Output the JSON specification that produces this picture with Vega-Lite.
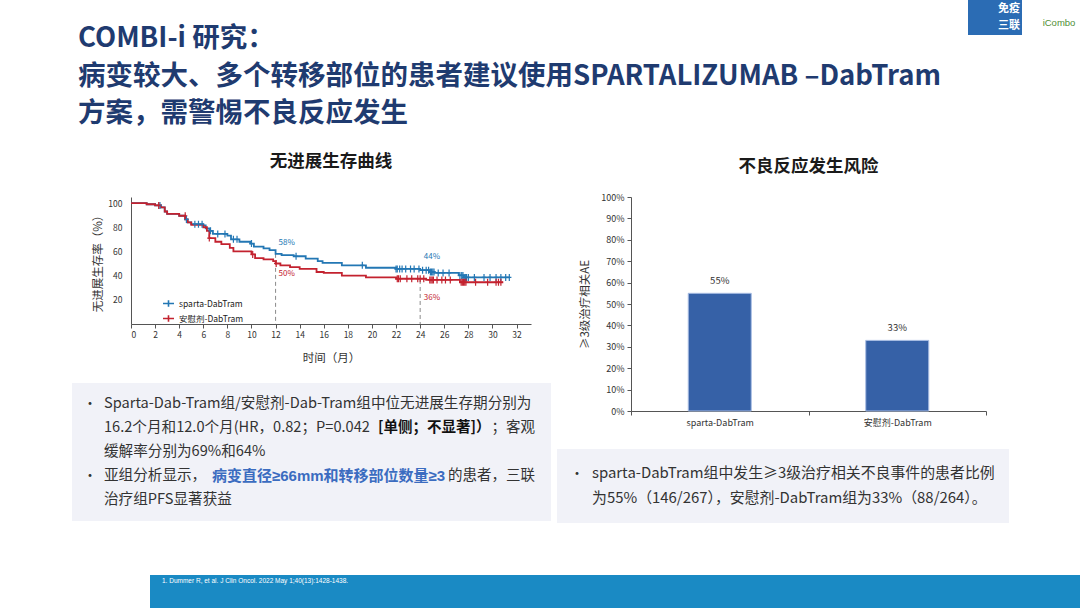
{
  "$schema": "https://vega.github.io/schema/vega-lite/v6.json",
  "background": "white",
  "padding": {"left": 72, "top": 0, "right": 0, "bottom": 0},
  "config": {
    "view": {"stroke": null},
    "font": "Noto Sans CJK SC",
    "axis": {"labelColor": "#333", "titleColor": "#333", "domainColor": "#555", "tickColor": "#555", "titleFontWeight": "normal", "grid": false, "labelFont": "Noto Sans CJK SC", "titleFont": "Noto Sans CJK SC"},
    "title": {"font": "Noto Sans CJK SC"}
  },
  "datasets": {
    "titleLines": [
      {"line": 1, "text": "COMBI-i 研究："},
      {"line": 2, "text": "病变较大、多个转移部位的患者建议使用SPARTALIZUMAB –DabTram"},
      {"line": 3, "text": "方案，需警惕不良反应发生"}
    ],
    "km": [
      {"arm": "sparta-DabTram", "t": 0, "s": 100}, {"arm": "sparta-DabTram", "t": 1.3, "s": 99}, {"arm": "sparta-DabTram", "t": 2.0, "s": 98}, {"arm": "sparta-DabTram", "t": 2.5, "s": 96.5}, {"arm": "sparta-DabTram", "t": 2.8, "s": 93}, {"arm": "sparta-DabTram", "t": 3.0, "s": 91}, {"arm": "sparta-DabTram", "t": 4.0, "s": 89.5}, {"arm": "sparta-DabTram", "t": 4.5, "s": 86.5}, {"arm": "sparta-DabTram", "t": 4.7, "s": 84}, {"arm": "sparta-DabTram", "t": 5.0, "s": 82.5}, {"arm": "sparta-DabTram", "t": 6.0, "s": 81.5}, {"arm": "sparta-DabTram", "t": 6.2, "s": 79}, {"arm": "sparta-DabTram", "t": 6.5, "s": 77}, {"arm": "sparta-DabTram", "t": 6.8, "s": 74.5}, {"arm": "sparta-DabTram", "t": 8.0, "s": 73}, {"arm": "sparta-DabTram", "t": 8.3, "s": 70}, {"arm": "sparta-DabTram", "t": 9.0, "s": 68}, {"arm": "sparta-DabTram", "t": 9.9, "s": 66.5}, {"arm": "sparta-DabTram", "t": 10.2, "s": 64}, {"arm": "sparta-DabTram", "t": 11.0, "s": 62.5}, {"arm": "sparta-DabTram", "t": 11.5, "s": 61}, {"arm": "sparta-DabTram", "t": 12.0, "s": 58}, {"arm": "sparta-DabTram", "t": 12.5, "s": 57}, {"arm": "sparta-DabTram", "t": 13.5, "s": 56}, {"arm": "sparta-DabTram", "t": 14.5, "s": 54}, {"arm": "sparta-DabTram", "t": 15.5, "s": 52}, {"arm": "sparta-DabTram", "t": 15.9, "s": 50.5}, {"arm": "sparta-DabTram", "t": 17.5, "s": 48.5}, {"arm": "sparta-DabTram", "t": 19.5, "s": 46.5}, {"arm": "sparta-DabTram", "t": 22.0, "s": 45.5}, {"arm": "sparta-DabTram", "t": 24.0, "s": 44.5}, {"arm": "sparta-DabTram", "t": 24.8, "s": 43}, {"arm": "sparta-DabTram", "t": 25.2, "s": 42.2}, {"arm": "sparta-DabTram", "t": 27.2, "s": 40.2}, {"arm": "sparta-DabTram", "t": 27.6, "s": 38.5}, {"arm": "sparta-DabTram", "t": 31.4, "s": 38.5},
      {"arm": "安慰剂-DabTram", "t": 0, "s": 100}, {"arm": "安慰剂-DabTram", "t": 1.3, "s": 99}, {"arm": "安慰剂-DabTram", "t": 2.0, "s": 98}, {"arm": "安慰剂-DabTram", "t": 2.5, "s": 96.5}, {"arm": "安慰剂-DabTram", "t": 2.8, "s": 93}, {"arm": "安慰剂-DabTram", "t": 3.0, "s": 91}, {"arm": "安慰剂-DabTram", "t": 4.0, "s": 89.5}, {"arm": "安慰剂-DabTram", "t": 4.5, "s": 86.5}, {"arm": "安慰剂-DabTram", "t": 4.7, "s": 84}, {"arm": "安慰剂-DabTram", "t": 5.0, "s": 82}, {"arm": "安慰剂-DabTram", "t": 6.0, "s": 80}, {"arm": "安慰剂-DabTram", "t": 6.3, "s": 77}, {"arm": "安慰剂-DabTram", "t": 6.5, "s": 71}, {"arm": "安慰剂-DabTram", "t": 7.0, "s": 68}, {"arm": "安慰剂-DabTram", "t": 7.5, "s": 66}, {"arm": "安慰剂-DabTram", "t": 8.2, "s": 63}, {"arm": "安慰剂-DabTram", "t": 8.5, "s": 60}, {"arm": "安慰剂-DabTram", "t": 10.0, "s": 57.5}, {"arm": "安慰剂-DabTram", "t": 10.3, "s": 54.5}, {"arm": "安慰剂-DabTram", "t": 11.0, "s": 53.5}, {"arm": "安慰剂-DabTram", "t": 11.8, "s": 52}, {"arm": "安慰剂-DabTram", "t": 12.0, "s": 50}, {"arm": "安慰剂-DabTram", "t": 12.4, "s": 48.5}, {"arm": "安慰剂-DabTram", "t": 13.2, "s": 47}, {"arm": "安慰剂-DabTram", "t": 14.0, "s": 45.5}, {"arm": "安慰剂-DabTram", "t": 15.4, "s": 43}, {"arm": "安慰剂-DabTram", "t": 16.0, "s": 42.2}, {"arm": "安慰剂-DabTram", "t": 17.5, "s": 40}, {"arm": "安慰剂-DabTram", "t": 19.5, "s": 38.5}, {"arm": "安慰剂-DabTram", "t": 22.0, "s": 37.4}, {"arm": "安慰剂-DabTram", "t": 24.5, "s": 36.4}, {"arm": "安慰剂-DabTram", "t": 27.3, "s": 34.5}, {"arm": "安慰剂-DabTram", "t": 30.9, "s": 34.5}
    ],
    "censor": [
      {"arm": "sparta-DabTram", "t": 2.4, "s": 98}, {"arm": "sparta-DabTram", "t": 4.6, "s": 86.5}, {"arm": "sparta-DabTram", "t": 5.3, "s": 82.5}, {"arm": "sparta-DabTram", "t": 5.6, "s": 82.5}, {"arm": "sparta-DabTram", "t": 5.9, "s": 82.5}, {"arm": "sparta-DabTram", "t": 6.6, "s": 77}, {"arm": "sparta-DabTram", "t": 7.2, "s": 74.5}, {"arm": "sparta-DabTram", "t": 7.8, "s": 74.5}, {"arm": "sparta-DabTram", "t": 8.5, "s": 70}, {"arm": "sparta-DabTram", "t": 8.8, "s": 70}, {"arm": "sparta-DabTram", "t": 10.0, "s": 66.5}, {"arm": "sparta-DabTram", "t": 13.7, "s": 56}, {"arm": "sparta-DabTram", "t": 19.2, "s": 48.5},
      {"arm": "sparta-DabTram", "t": 22.0, "s": 45.5}, {"arm": "sparta-DabTram", "t": 22.1, "s": 45.5}, {"arm": "sparta-DabTram", "t": 22.3, "s": 45.5}, {"arm": "sparta-DabTram", "t": 22.5, "s": 45.5}, {"arm": "sparta-DabTram", "t": 22.8, "s": 45.5}, {"arm": "sparta-DabTram", "t": 23.2, "s": 45.5}, {"arm": "sparta-DabTram", "t": 23.5, "s": 45.5}, {"arm": "sparta-DabTram", "t": 23.9, "s": 45.5},
      {"arm": "sparta-DabTram", "t": 24.2, "s": 44.5}, {"arm": "sparta-DabTram", "t": 24.5, "s": 44.5}, {"arm": "sparta-DabTram", "t": 24.7, "s": 44.5}, {"arm": "sparta-DabTram", "t": 24.85, "s": 43}, {"arm": "sparta-DabTram", "t": 24.95, "s": 43}, {"arm": "sparta-DabTram", "t": 25.05, "s": 43}, {"arm": "sparta-DabTram", "t": 25.15, "s": 43}, {"arm": "sparta-DabTram", "t": 25.5, "s": 42.2}, {"arm": "sparta-DabTram", "t": 25.9, "s": 42.2}, {"arm": "sparta-DabTram", "t": 26.4, "s": 42.2},
      {"arm": "sparta-DabTram", "t": 27.3, "s": 40.2}, {"arm": "sparta-DabTram", "t": 27.45, "s": 40.2}, {"arm": "sparta-DabTram", "t": 27.55, "s": 40.2}, {"arm": "sparta-DabTram", "t": 27.65, "s": 38.5}, {"arm": "sparta-DabTram", "t": 27.75, "s": 38.5}, {"arm": "sparta-DabTram", "t": 27.85, "s": 38.5}, {"arm": "sparta-DabTram", "t": 28.0, "s": 38.5}, {"arm": "sparta-DabTram", "t": 28.5, "s": 38.5}, {"arm": "sparta-DabTram", "t": 29.3, "s": 38.5}, {"arm": "sparta-DabTram", "t": 29.8, "s": 38.5}, {"arm": "sparta-DabTram", "t": 30.3, "s": 38.5}, {"arm": "sparta-DabTram", "t": 30.7, "s": 38.5}, {"arm": "sparta-DabTram", "t": 31.1, "s": 38.5}, {"arm": "sparta-DabTram", "t": 31.4, "s": 38.5},
      {"arm": "安慰剂-DabTram", "t": 2.3, "s": 98}, {"arm": "安慰剂-DabTram", "t": 4.5, "s": 89.5}, {"arm": "安慰剂-DabTram", "t": 6.5, "s": 71}, {"arm": "安慰剂-DabTram", "t": 10.1, "s": 57.5}, {"arm": "安慰剂-DabTram", "t": 12.05, "s": 50},
      {"arm": "安慰剂-DabTram", "t": 22.1, "s": 37.4}, {"arm": "安慰剂-DabTram", "t": 22.2, "s": 37.4}, {"arm": "安慰剂-DabTram", "t": 22.35, "s": 37.4}, {"arm": "安慰剂-DabTram", "t": 22.9, "s": 37.4}, {"arm": "安慰剂-DabTram", "t": 23.3, "s": 37.4}, {"arm": "安慰剂-DabTram", "t": 23.8, "s": 37.4}, {"arm": "安慰剂-DabTram", "t": 24.0, "s": 37.4}, {"arm": "安慰剂-DabTram", "t": 24.3, "s": 37.4},
      {"arm": "安慰剂-DabTram", "t": 24.8, "s": 36.4}, {"arm": "安慰剂-DabTram", "t": 24.9, "s": 36.4}, {"arm": "安慰剂-DabTram", "t": 25.0, "s": 36.4}, {"arm": "安慰剂-DabTram", "t": 25.1, "s": 36.4}, {"arm": "安慰剂-DabTram", "t": 25.4, "s": 36.4}, {"arm": "安慰剂-DabTram", "t": 25.8, "s": 36.4}, {"arm": "安慰剂-DabTram", "t": 26.1, "s": 36.4}, {"arm": "安慰剂-DabTram", "t": 26.5, "s": 36.4},
      {"arm": "安慰剂-DabTram", "t": 27.4, "s": 34.5}, {"arm": "安慰剂-DabTram", "t": 27.5, "s": 34.5}, {"arm": "安慰剂-DabTram", "t": 27.6, "s": 34.5}, {"arm": "安慰剂-DabTram", "t": 27.7, "s": 34.5}, {"arm": "安慰剂-DabTram", "t": 27.8, "s": 34.5}, {"arm": "安慰剂-DabTram", "t": 28.6, "s": 34.5}, {"arm": "安慰剂-DabTram", "t": 29.6, "s": 34.5}, {"arm": "安慰剂-DabTram", "t": 30.3, "s": 34.5}, {"arm": "安慰剂-DabTram", "t": 30.5, "s": 34.5}, {"arm": "安慰剂-DabTram", "t": 30.7, "s": 34.5}
    ],
    "kmRef": [
      {"t": 12, "s": 58, "lo": 0},
      {"t": 24, "s": 36.4, "lo": 0}
    ],
    "kmPct": [
      {"arm": "sparta-DabTram", "t": 12.25, "s": 66.8, "label": "58%"},
      {"arm": "安慰剂-DabTram", "t": 12.25, "s": 41.6, "label": "50%"},
      {"arm": "sparta-DabTram", "t": 24.3, "s": 55.8, "label": "44%"},
      {"arm": "安慰剂-DabTram", "t": 24.3, "s": 21.5, "label": "36%"}
    ],
    "ae": [
      {"arm": "sparta-DabTram", "ae": 0.55},
      {"arm": "安慰剂-DabTram", "ae": 0.33}
    ],
    "leftText": [
      {"line": 1, "seg": "bullet", "text": "•"},
      {"line": 1, "seg": "start", "text": "Sparta-Dab-Tram组/安慰剂-Dab-Tram组中位无进展生存期分别为"},
      {"line": 2, "seg": "start", "text": "16.2个月和12.0个月(HR，0.82；P=0.042"},
      {"line": 2, "seg": "bold", "text": "[单侧；不显著]）"},
      {"line": 2, "seg": "end", "text": "；客观"},
      {"line": 3, "seg": "start", "text": "缓解率分别为69%和64%"},
      {"line": 4, "seg": "bullet", "text": "•"},
      {"line": 4, "seg": "start", "text": "亚组分析显示，"},
      {"line": 4, "seg": "blue", "text": "病变直径≥66mm和转移部位数量≥3"},
      {"line": 4, "seg": "end", "text": "的患者，三联"},
      {"line": 5, "seg": "start", "text": "治疗组PFS显著获益"}
    ],
    "rightText": [
      {"line": 1, "seg": "bullet", "text": "•"},
      {"line": 1, "seg": "start", "text": "sparta-DabTram组中发生≥3级治疗相关不良事件的患者比例"},
      {"line": 2, "seg": "start", "text": "为55%（146/267），安慰剂-DabTram组为33%（88/264）。"}
    ]
  },
  "spacing": 49,
  "resolve": {"scale": {"color": "independent"}, "legend": {"color": "independent"}},
  "vconcat": [
    {
      "spacing": 3,
      "resolve": {"scale": {"color": "independent"}, "legend": {"color": "independent"}},
      "vconcat": [
        {
          "spacing": 0,
          "hconcat": [
            {
              "width": 896, "height": 149,
              "data": {"name": "titleLines"},
              "mark": {"type": "text", "align": "left", "baseline": "middle", "fontSize": 27.5, "fontWeight": "bold", "color": "#1f3b70", "dx": 6, "dy": 2},
              "encoding": {
                "y": {"field": "line", "type": "ordinal", "axis": null, "scale": {"type": "point", "padding": 1.29}},
                "x": {"value": 0},
                "text": {"field": "text"}
              }
            },
            {
              "width": 54, "height": 35,
              "view": {"fill": "#2b6cb4", "stroke": null},
              "data": {"values": [{"line": 1, "t": "免疫"}, {"line": 2, "t": "三联"}]},
              "mark": {"type": "text", "align": "left", "baseline": "middle", "fontSize": 11, "fontWeight": "bold", "color": "white"},
              "encoding": {
                "y": {"field": "line", "type": "ordinal", "axis": null, "scale": {"type": "point", "padding": 0.5}},
                "x": {"value": 30},
                "text": {"field": "t"}
              }
            },
            {
              "width": 58, "height": 35,
              "data": {"values": [{"t": "iCombo"}]},
              "mark": {"type": "text", "align": "center", "baseline": "middle", "fontSize": 9.5, "color": "#4f8f35", "font": "Liberation Sans"},
              "encoding": {"x": {"value": 37}, "y": {"value": 23}, "text": {"field": "t"}}
            }
          ]
        },
        {
          "spacing": 6,
          "resolve": {"scale": {"color": "independent"}, "legend": {"color": "independent"}},
          "hconcat": [
            {
              "spacing": 19,
              "resolve": {"scale": {"color": "independent"}, "legend": {"color": "independent"}},
              "vconcat": [
                {
                  "spacing": 0,
                  "resolve": {"scale": {"color": "independent"}, "legend": {"color": "independent"}},
                  "hconcat": [
                    {"width": 20, "height": 1, "data": {"values": [{}]}, "mark": {"type": "point", "opacity": 0}},
                    {
                      "width": 400, "height": 127,
                      "title": {"text": "无进展生存曲线", "fontSize": 17.5, "fontWeight": "bold", "color": "#1a1a1a", "offset": 27},
                      "encoding": {
                        "x": {"field": "t", "type": "quantitative", "scale": {"domain": [0, 33.2], "nice": false, "zero": false},
                              "axis": {"values": [0, 2, 4, 6, 8, 10, 12, 14, 16, 18, 20, 22, 24, 26, 28, 30, 32], "title": "时间（月）", "tickSize": 4, "labelPadding": 2, "labelFontSize": 8.5, "titlePadding": 14, "titleFontSize": 11.5}},
                        "y": {"field": "s", "type": "quantitative", "scale": {"domain": [0, 105], "nice": false},
                              "axis": {"values": [20, 40, 60, 80, 100], "title": "无进展生存率（%）", "ticks": false, "labelPadding": 9, "labelFontSize": 8.5, "titlePadding": 4, "titleFontSize": 11.5}}
                      },
                      "layer": [
                        {"data": {"name": "kmRef"}, "mark": {"type": "rule", "strokeDash": [4, 3], "color": "#8a8a8a", "strokeWidth": 1}, "encoding": {"y2": {"field": "lo"}}},
                        {
                          "encoding": {
                            "color": {"field": "arm", "type": "nominal",
                                      "scale": {"domain": ["sparta-DabTram", "安慰剂-DabTram"], "range": ["#2377b4", "#c3222f"]},
                                      "legend": {"orient": "none", "legendX": 31, "legendY": 100, "title": null, "symbolType": "M-1,0H1M0,-0.6V0.6", "symbolSize": 121, "symbolStrokeWidth": 1.6, "labelFontSize": 8.5, "labelColor": "#222", "rowPadding": 2, "labelOffset": 4}}
                          },
                          "layer": [
                            {"data": {"name": "km"}, "mark": {"type": "line", "interpolate": "step-after", "strokeWidth": 1.8}},
                            {"data": {"name": "censor"}, "mark": {"type": "point", "shape": "M0,-1V1M-0.6,0H0.6", "filled": false, "size": 49, "strokeWidth": 1.2, "opacity": 1}},
                            {"data": {"name": "kmPct"}, "mark": {"type": "text", "align": "left", "baseline": "middle", "fontSize": 8}, "encoding": {"text": {"field": "label"}}}
                          ]
                        }
                      ]
                    }
                  ]
                },
                {
                  "width": 479, "height": 138,
                  "view": {"fill": "#f1f2f8", "stroke": null},
                  "data": {"name": "leftText"},
                  "encoding": {
                    "y": {"field": "line", "type": "ordinal", "axis": null, "scale": {"type": "point", "padding": 0.875, "domain": [1, 2, 3, 4, 5]}},
                    "text": {"field": "text"}
                  },
                  "layer": [
                    {"transform": [{"filter": "datum.seg === 'bullet'"}], "mark": {"type": "text", "align": "center", "baseline": "middle", "fontSize": 14, "color": "#333"}, "encoding": {"x": {"value": 18}}},
                    {"transform": [{"filter": "datum.seg === 'start'"}], "mark": {"type": "text", "align": "left", "baseline": "middle", "fontSize": 14.6, "color": "#333"}, "encoding": {"x": {"value": 32}}},
                    {"transform": [{"filter": "datum.seg === 'bold'"}], "mark": {"type": "text", "align": "left", "baseline": "middle", "fontSize": 14.5, "fontWeight": "bold", "color": "#111"}, "encoding": {"x": {"value": 306}}},
                    {"transform": [{"filter": "datum.seg === 'blue'"}], "mark": {"type": "text", "align": "left", "baseline": "middle", "fontSize": 15, "fontWeight": "bold", "color": "#3b6cc0", "font": "Liberation Sans, Noto Sans CJK SC"}, "encoding": {"x": {"value": 140}}},
                    {"transform": [{"filter": "datum.seg === 'end'"}], "mark": {"type": "text", "align": "right", "baseline": "middle", "fontSize": 14.5, "color": "#333"}, "encoding": {"x": {"value": 463}}}
                  ]
                }
              ]
            },
            {
              "spacing": 22,
              "vconcat": [
                {
                  "spacing": 0,
                  "hconcat": [
                    {"width": 22, "height": 1, "data": {"values": [{}]}, "mark": {"type": "point", "opacity": 0}},
                    {
                      "width": 355, "height": 214,
                      "title": {"text": "不良反应发生风险", "fontSize": 17.5, "fontWeight": "bold", "color": "#1a1a1a", "offset": 18},
                      "data": {"name": "ae"},
                      "encoding": {
                        "x": {"field": "arm", "type": "nominal", "sort": null, "scale": {"paddingInner": 0, "paddingOuter": 0},
                              "axis": {"title": null, "labelAngle": 0, "tickBand": "extent", "tickSize": 4, "labelPadding": 3, "labelFontSize": 9}},
                        "y": {"field": "ae", "type": "quantitative", "scale": {"domain": [0, 1], "nice": false},
                              "axis": {"values": [0, 0.1, 0.2, 0.3, 0.4, 0.5, 0.6, 0.7, 0.8, 0.9, 1], "format": ".0%", "title": "≥3级治疗相关AE", "tickSize": 4, "labelPadding": 3, "labelFontSize": 9, "titlePadding": 10, "titleFontSize": 11.5}}
                      },
                      "layer": [
                        {"mark": {"type": "bar", "width": {"band": 0.355}, "color": "#3661a7", "stroke": "#a8bde3", "strokeWidth": 1}},
                        {"mark": {"type": "text", "dy": -12, "fontSize": 9.5, "color": "#333", "baseline": "middle"}, "encoding": {"text": {"field": "ae", "format": ".0%"}}}
                      ]
                    }
                  ]
                },
                {
                  "width": 452, "height": 74,
                  "view": {"fill": "#f1f2f8", "stroke": null},
                  "data": {"name": "rightText"},
                  "encoding": {
                    "y": {"field": "line", "type": "ordinal", "axis": null, "scale": {"type": "point", "padding": 0.98, "domain": [1, 2]}},
                    "text": {"field": "text"}
                  },
                  "layer": [
                    {"transform": [{"filter": "datum.seg === 'bullet'"}], "mark": {"type": "text", "align": "center", "baseline": "middle", "fontSize": 14, "color": "#333"}, "encoding": {"x": {"value": 20}}},
                    {"transform": [{"filter": "datum.seg === 'start'"}], "mark": {"type": "text", "align": "left", "baseline": "middle", "fontSize": 14.9, "color": "#333"}, "encoding": {"x": {"value": 35}}}
                  ]
                }
              ]
            }
          ]
        }
      ]
    },
    {
      "spacing": 0,
      "hconcat": [
        {"width": 78, "height": 1, "data": {"values": [{}]}, "mark": {"type": "point", "opacity": 0}},
        {
          "width": 930, "height": 38,
          "view": {"fill": "#1a8ac4", "stroke": null},
          "data": {"values": [{"ref": "1.  Dummer R, et al. J Clin Oncol. 2022  May  1;40(13):1428-1438."}]},
          "mark": {"type": "text", "align": "left", "baseline": "middle", "fontSize": 6.5, "color": "white", "font": "Liberation Sans"},
          "encoding": {"text": {"field": "ref"}, "x": {"value": 12}, "y": {"value": 6}}
        }
      ]
    }
  ]
}
